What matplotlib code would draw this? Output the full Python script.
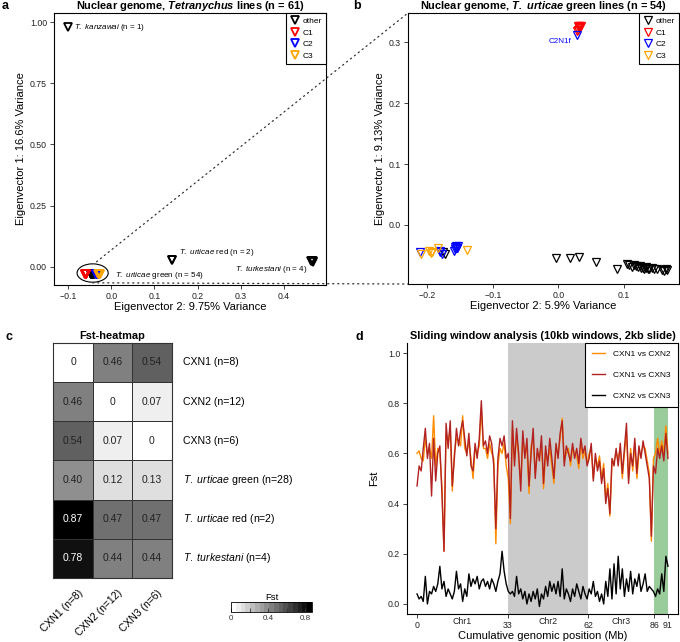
import matplotlib
matplotlib.use("Agg")
import matplotlib.pyplot as plt
from matplotlib.lines import Line2D
from matplotlib.patches import Ellipse, ConnectionPatch
from matplotlib.colors import Normalize
import numpy as np

plt.rcParams['font.family'] = ['Liberation Sans', 'DejaVu Sans']
plt.rcParams['mathtext.fontset'] = 'custom'
plt.rcParams['mathtext.rm'] = 'Liberation Sans'
plt.rcParams['mathtext.it'] = 'Liberation Sans:italic'
plt.rcParams['mathtext.bf'] = 'Liberation Sans:bold'
plt.rcParams['mathtext.bfit'] = 'Liberation Sans:bold:italic'
plt.rcParams['axes.linewidth'] = 0.8

# ---- panel a: PCA of all Tetranychus lines ----
a_other_x = [-0.100, 0.140, 0.141, 0.463, 0.465, 0.467, 0.468,
             -0.046, -0.045, -0.044, -0.043, -0.042, -0.041, -0.040, -0.047,
             -0.046, -0.045, -0.044, -0.043, -0.042, -0.041, -0.040, -0.047,
             -0.045, -0.044, -0.043, -0.042, -0.041, -0.046, -0.043, -0.044,
             -0.042, -0.045, -0.041, -0.040]
a_other_y = [0.980, 0.026, 0.028, 0.022, 0.025, 0.020, 0.023,
             -0.031, -0.030, -0.032, -0.031, -0.030, -0.032, -0.031, -0.029,
             -0.032, -0.031, -0.030, -0.029, -0.031, -0.030, -0.032, -0.031,
             -0.030, -0.031, -0.032, -0.030, -0.029, -0.030, -0.031, -0.032,
             -0.030, -0.029, -0.031, -0.030]
a_c1_x = [-0.060, -0.059, -0.060, -0.058, -0.059, -0.060, -0.058, -0.059]
a_c1_y = [-0.032, -0.031, -0.030, -0.032, -0.031, -0.030, -0.031, -0.032]
a_c2_x = [-0.034, -0.033, -0.035, -0.032, -0.034, -0.033, -0.035, -0.032,
          -0.034, -0.033, -0.031, -0.036]
a_c2_y = [-0.030, -0.031, -0.029, -0.030, -0.031, -0.029, -0.030, -0.031,
          -0.030, -0.029, -0.030, -0.031]
a_c3_x = [-0.029, -0.028, -0.027, -0.030, -0.028, -0.026]
a_c3_y = [-0.030, -0.031, -0.029, -0.030, -0.028, -0.031]

# ---- panel b: PCA of T. urticae green lines ----
b_other_x = [-0.176, -0.173, -0.003, 0.018, 0.031, 0.057, 0.089, 0.104, 0.108,
             0.112, 0.115, 0.118, 0.121, 0.124, 0.126, 0.129, 0.131, 0.133,
             0.136, 0.138, 0.142, 0.146, 0.150, 0.158, 0.161, 0.164, 0.166, 0.134]
b_other_y = [-0.045, -0.047, -0.055, -0.054, -0.053, -0.060, -0.072, -0.064, -0.066,
             -0.069, -0.065, -0.067, -0.069, -0.068, -0.071, -0.070, -0.072, -0.071,
             -0.073, -0.072, -0.071, -0.073, -0.072, -0.074, -0.075, -0.073, -0.074, -0.069]
b_c1_x = [0.030, 0.032, 0.033, 0.031, 0.034, 0.032, 0.030, 0.029]
b_c1_y = [0.327, 0.326, 0.327, 0.325, 0.326, 0.323, 0.320, 0.318]
b_c2_x = [0.028, -0.211, -0.181, -0.178, -0.180, -0.158, -0.156, -0.155,
          -0.157, -0.154, -0.159, -0.153]
b_c2_y = [0.312, -0.045, -0.045, -0.047, -0.043, -0.036, -0.035, -0.038,
          -0.040, -0.037, -0.042, -0.035]
b_c3_x = [-0.210, -0.197, -0.195, -0.184, -0.139, -0.193]
b_c3_y = [-0.048, -0.043, -0.046, -0.037, -0.041, -0.044]

group_names = ['other', 'C1', 'C2', 'C3']
group_colors = ['black', '#ff0000', '#0000ff', '#ffa500']

# ---- panel c: Fst heatmap ----
fst_rows = ['CXN1 (n=8)', 'CXN2 (n=12)', 'CXN3 (n=6)',
            r'$\mathit{T.\ urticae}$ green (n=28)',
            r'$\mathit{T.\ urticae}$ red (n=2)',
            r'$\mathit{T.\ turkestani}$ (n=4)']
fst_cols = ['CXN1 (n=8)', 'CXN2 (n=12)', 'CXN3 (n=6)']
fst_values = [[0.00, 0.46, 0.54],
              [0.46, 0.00, 0.07],
              [0.54, 0.07, 0.00],
              [0.40, 0.12, 0.13],
              [0.87, 0.47, 0.47],
              [0.78, 0.44, 0.44]]

# ---- panel d: sliding window Fst ----
fst_12 = [0.60, 0.61, 0.58, 0.57, 0.66, 0.60, 0.62, 0.58, 0.75, 0.55, 0.62, 0.60, 0.47, 0.21,
          0.68, 0.64, 0.70, 0.45, 0.60, 0.66, 0.65, 0.63, 0.75, 0.62, 0.60, 0.65, 0.58, 0.50,
          0.62, 0.60, 0.63, 0.78, 0.62, 0.62, 0.58, 0.64, 0.60, 0.58, 0.24, 0.55, 0.62, 0.60,
          0.64, 0.55, 0.50, 0.32,
          0.70, 0.57, 0.68, 0.58, 0.48, 0.66, 0.60, 0.62, 0.44, 0.63, 0.66, 0.52, 0.60, 0.59,
          0.63, 0.46, 0.60, 0.57, 0.62, 0.55, 0.48, 0.62, 0.60, 0.66, 0.74, 0.57, 0.60, 0.62,
          0.55, 0.62, 0.60, 0.59, 0.54, 0.64, 0.58, 0.61, 0.56,
          0.60, 0.62, 0.50, 0.58, 0.55, 0.59, 0.50, 0.56, 0.42, 0.48, 0.35, 0.56, 0.57, 0.60,
          0.58, 0.62, 0.50, 0.60, 0.68, 0.50, 0.62, 0.53, 0.64, 0.50, 0.60, 0.60, 0.63, 0.62,
          0.57, 0.52, 0.25, 0.58, 0.60, 0.66, 0.60, 0.65, 0.60, 0.71, 0.60]
fst_13 = [0.47, 0.55, 0.53, 0.62, 0.70, 0.58, 0.64, 0.43, 0.66, 0.49, 0.60, 0.63, 0.44, 0.21,
          0.72, 0.62, 0.73, 0.47, 0.58, 0.70, 0.63, 0.69, 0.73, 0.66, 0.59, 0.68, 0.55, 0.53,
          0.64, 0.58, 0.66, 0.81, 0.63, 0.65, 0.60, 0.67, 0.64, 0.55, 0.30, 0.58, 0.66, 0.63,
          0.67, 0.58, 0.60, 0.34,
          0.73, 0.55, 0.70, 0.60, 0.45, 0.69, 0.58, 0.66, 0.47, 0.60, 0.70, 0.50, 0.62, 0.57,
          0.67, 0.48, 0.63, 0.55, 0.66, 0.58, 0.50, 0.64, 0.58, 0.68, 0.73, 0.55, 0.63, 0.60,
          0.57, 0.64, 0.58, 0.62, 0.56, 0.66, 0.60, 0.63, 0.55,
          0.58, 0.64, 0.49, 0.60, 0.53, 0.57, 0.48, 0.54, 0.40, 0.46, 0.36, 0.58, 0.55, 0.62,
          0.55, 0.64, 0.52, 0.62, 0.72, 0.48, 0.60, 0.55, 0.66, 0.52, 0.63, 0.58, 0.65, 0.60,
          0.55, 0.50, 0.27, 0.55, 0.52, 0.62, 0.58, 0.63, 0.57, 0.68, 0.58]
fst_23 = [0.04, 0.02, 0.03, 0.01, 0.11, 0.00, 0.05, 0.04, 0.07, 0.05, 0.08, 0.15, 0.06, 0.09,
          0.03, 0.06, 0.04, 0.02, 0.05, 0.13, 0.06, 0.08, 0.01, 0.06, 0.03, 0.12, 0.07, 0.10,
          0.08, 0.11, 0.06, 0.09, 0.10, 0.07, 0.09, 0.06, 0.10, 0.08, 0.05, 0.09, 0.12, 0.21,
          0.13, 0.08, 0.05, 0.04,
          0.05, 0.03, 0.11, 0.04, 0.06, 0.02, 0.05, 0.00, 0.04, 0.01, 0.05, 0.02, 0.06, -0.01,
          0.04, 0.02, 0.07, 0.03, 0.09, 0.05, 0.08, 0.04, 0.09, 0.03, 0.14, 0.02, 0.06, 0.04,
          0.01, 0.06, 0.03, 0.08, 0.05, 0.02, 0.07, 0.04, 0.02,
          0.06, 0.04, 0.09, 0.03, 0.05, 0.01, 0.04, 0.00, 0.09, 0.03, 0.14, 0.02, 0.16, 0.04,
          0.19, 0.06, 0.14, 0.03, 0.10, 0.05, 0.13, 0.04, 0.10, 0.07, 0.12, 0.05, 0.08, 0.12,
          0.05, 0.07, 0.06, 0.05, 0.03, 0.06, 0.04, 0.12, 0.05, 0.19, 0.15]
chrom_bounds = [0, 33, 62, 86, 91]
chrom_names = ['Chr1', 'Chr2', 'Chr3']
chrom_mids = [16.5, 47.5, 74]

TICK = 6.3
LAB = 8
TITLE = 7.9

fig = plt.figure(figsize=(6.8, 6.42), dpi=100)


def style_ax(ax):
    ax.tick_params(direction='out', length=3, width=0.6, labelsize=TICK, pad=2,
                   colors='#222222')


def pca_scatter(ax, groups, mew):
    for (xs, ys), col in zip(groups, group_colors):
        ax.plot(xs, ys, 'v', ms=6.3, mfc='none', mec=col, mew=mew, ls='none')
    handles = [Line2D([], [], marker='v', ls='none', ms=6.3, mfc='none', mec=c, mew=mew)
               for c in group_colors]
    leg = ax.legend(handles, group_names, loc='upper right', borderaxespad=0,
                    fontsize=6, fancybox=False, framealpha=1, edgecolor='black',
                    handletextpad=0.3, labelspacing=0.45, borderpad=0.5,
                    handlelength=1.2)
    leg.get_frame().set_linewidth(0.8)


# panel a
ax_a = fig.add_axes([54 / 680, 1 - 285 / 642, 272 / 680, 272 / 642])
pca_scatter(ax_a, [(a_other_x, a_other_y), (a_c1_x, a_c1_y),
                   (a_c2_x, a_c2_y), (a_c3_x, a_c3_y)], 1.3)
ax_a.set_xlim(-0.1324, 0.497)
ax_a.set_ylim(-0.075, 1.038)
ax_a.set_xticks([-0.1, 0.0, 0.1, 0.2, 0.3, 0.4])
ax_a.set_xticklabels(['\u22120.1', '0.0', '0.1', '0.2', '0.3', '0.4'])
ax_a.set_yticks([0, 0.25, 0.5, 0.75, 1.0])
ax_a.set_yticklabels(['0.00', '0.25', '0.50', '0.75', '1.00'])
style_ax(ax_a)
ax_a.set_xlabel('Eigenvector 2: 9.75% Variance', fontsize=LAB, labelpad=1)
ax_a.set_ylabel('Eigenvector 1: 16.6% Variance', fontsize=LAB, labelpad=3)
ax_a.set_title(r'Nuclear genome, $\mathbfit{Tetranychus}$ lines (n = 61)',
               fontsize=TITLE, fontweight='bold', pad=2)
ax_a.add_patch(Ellipse((-0.043, -0.026), 0.072, 0.075, fill=False, lw=0.8, ec='black'))
ann = 5.8
ax_a.text(-0.087, 0.98, r'$\mathit{T.\ kanzawai}$ (n = 1)', va='center', fontsize=ann)
ax_a.text(0.157, 0.06, r'$\mathit{T.\ urticae}$ red (n = 2)', va='center', fontsize=ann)
ax_a.text(0.453, -0.012, r'$\mathit{T.\ turkestani}$ (n = 4)', ha='right', va='center',
          fontsize=ann)
ax_a.text(0.009, -0.036, r'$\mathit{T.\ urticae}$ green (n = 54)', va='center', fontsize=ann)

# panel b
ax_b = fig.add_axes([408 / 680, 1 - 284 / 642, 271 / 680, 271 / 642])
pca_scatter(ax_b, [(b_other_x, b_other_y), (b_c1_x, b_c1_y),
                   (b_c2_x, b_c2_y), (b_c3_x, b_c3_y)], 0.9)
ax_b.text(b_c2_x[0] - 0.009, b_c2_y[0] - 0.011, 'C2N1f', color='#0000ff', ha='right',
          va='center', fontsize=ann)
ax_b.set_xlim(-0.2294, 0.1838)
ax_b.set_ylim(-0.0969, 0.348)
ax_b.set_xticks([-0.2, -0.1, 0.0, 0.1])
ax_b.set_xticklabels(['\u22120.2', '\u22120.1', '0.0', '0.1'])
ax_b.set_yticks([0.0, 0.1, 0.2, 0.3])
ax_b.set_yticklabels(['0.0', '0.1', '0.2', '0.3'])
style_ax(ax_b)
ax_b.set_xlabel('Eigenvector 2: 5.9% Variance', fontsize=LAB, labelpad=1)
ax_b.set_ylabel('Eigenvector 1: 9.13% Variance', fontsize=LAB, labelpad=3)
ax_b.set_title(r'Nuclear genome, $\mathbfit{T.\ urticae}$ green lines (n = 54)',
               fontsize=TITLE, fontweight='bold', pad=2)

# dotted zoom lines from the green cluster in a to panel b
for xyA, xyB in [((-0.034, 0.02), (0, 1)), ((-0.043, -0.066), (0, 0))]:
    con = ConnectionPatch(xyA=xyA, coordsA=ax_a.transData, xyB=xyB,
                          coordsB=ax_b.transAxes, ls=(0, (1, 3)), lw=0.9, color='#333333')
    fig.add_artist(con)

# panel c
ax_c = fig.add_axes([53.3 / 680, 1 - 578 / 642, 118.4 / 680, 235.3 / 642])
cmap = plt.get_cmap('gray_r').resampled(17)
norm = Normalize(vmin=0, vmax=0.87)
vals = np.array(fst_values)
mesh = ax_c.pcolormesh(vals, cmap=cmap, norm=norm, edgecolors='#333333', linewidth=0.7)
ax_c.set_xlim(0, 3)
ax_c.set_ylim(6, 0)
ax_c.set_xticks([])
ax_c.set_yticks([])
for sp in ax_c.spines.values():
    sp.set_color('#333333')
for i in range(vals.shape[0]):
    for j in range(vals.shape[1]):
        v = vals[i, j]
        txt = '0' if v == 0 else f'{v:.2f}'
        ax_c.text(j + 0.5, i + 0.5, txt, ha='center', va='center', fontsize=7.5,
                  color='white' if v > 0.7 else '#222222')
for i, lab in enumerate(fst_rows):
    ax_c.text(3.29, i + 0.5, lab, ha='left', va='center', fontsize=7.6,
              transform=ax_c.transData, clip_on=False)
for j, lab in enumerate(fst_cols):
    ax_c.text(j + 0.62, 6.25, lab, ha='right', va='top', rotation=45,
              rotation_mode='anchor', fontsize=7.5, clip_on=False)
ax_c.set_title('Fst-heatmap', fontsize=TITLE, fontweight='bold', pad=3)

cax = fig.add_axes([231 / 680, 1 - 612 / 642, 81 / 680, 10 / 642])
cb = fig.colorbar(mesh, cax=cax, orientation='horizontal')
cb.set_ticks([0, 0.2, 0.4, 0.6, 0.8])
cb.set_ticklabels(['0', '', '0.4', '', '0.8'])
cax.tick_params(direction='in', length=3, width=0.6, labelsize=5.8, pad=2,
                colors='#333333')
cb.outline.set_linewidth(0.6)
cax.set_title('Fst', fontsize=6.8, pad=1.5)

# panel d
ax_d = fig.add_axes([407 / 680, 1 - 614 / 642, 271 / 680, 271 / 642])
ax_d.axvspan(33, 62, color='#cbcbcb', lw=0, zorder=0)
ax_d.axvspan(86, 91, color='#9acb9a', lw=0, zorder=0)
l1, = ax_d.plot(np.linspace(0, 91, len(fst_12)), fst_12, color='#ff8c00', lw=1.0)
l2, = ax_d.plot(np.linspace(0, 91, len(fst_13)), fst_13, color='#b22222', lw=1.0)
l3, = ax_d.plot(np.linspace(0, 91, len(fst_23)), fst_23, color='black', lw=1.0)
ax_d.set_xlim(-3.64, 94.64)
ax_d.set_ylim(-0.04, 1.04)
ax_d.set_xticks(chrom_bounds)
ax_d.set_xticks(chrom_mids, minor=True)
ax_d.set_xticklabels(chrom_names, minor=True)
ax_d.set_yticks([0, 0.2, 0.4, 0.6, 0.8, 1.0])
ax_d.set_yticklabels(['0.0', '0.2', '0.4', '0.6', '0.8', '1.0'])
style_ax(ax_d)
ax_d.tick_params(axis='x', which='minor', length=0, labelsize=TICK, pad=2, colors='#222222')
ax_d.spines['top'].set_visible(False)
ax_d.set_xlabel('Cumulative genomic position (Mb)', fontsize=LAB, labelpad=1)
ax_d.set_ylabel('Fst', fontsize=LAB, labelpad=6)
ax_d.set_title('Sliding window analysis (10kb windows, 2kb slide)', fontsize=TITLE,
               fontweight='bold', pad=3)
leg = ax_d.legend([l1, l2, l3], ['CXN1 vs CXN2', 'CXN1 vs CXN3', 'CXN2 vs CXN3'],
                  loc='upper right', borderaxespad=0, fontsize=6, fancybox=False,
                  framealpha=1, edgecolor='black', labelspacing=1.55, handlelength=1.5,
                  handletextpad=1.0, borderpad=0.9)
leg.get_frame().set_linewidth(0.8)

# panel letters
for lab, x, y in [('a', 2, 6), ('b', 353, 6), ('c', 5, 337), ('d', 355, 337)]:
    fig.text(x / 680, 1 - y / 642, lab, fontsize=9, fontweight='bold', va='center')

fig.savefig('out.png', dpi=100)
